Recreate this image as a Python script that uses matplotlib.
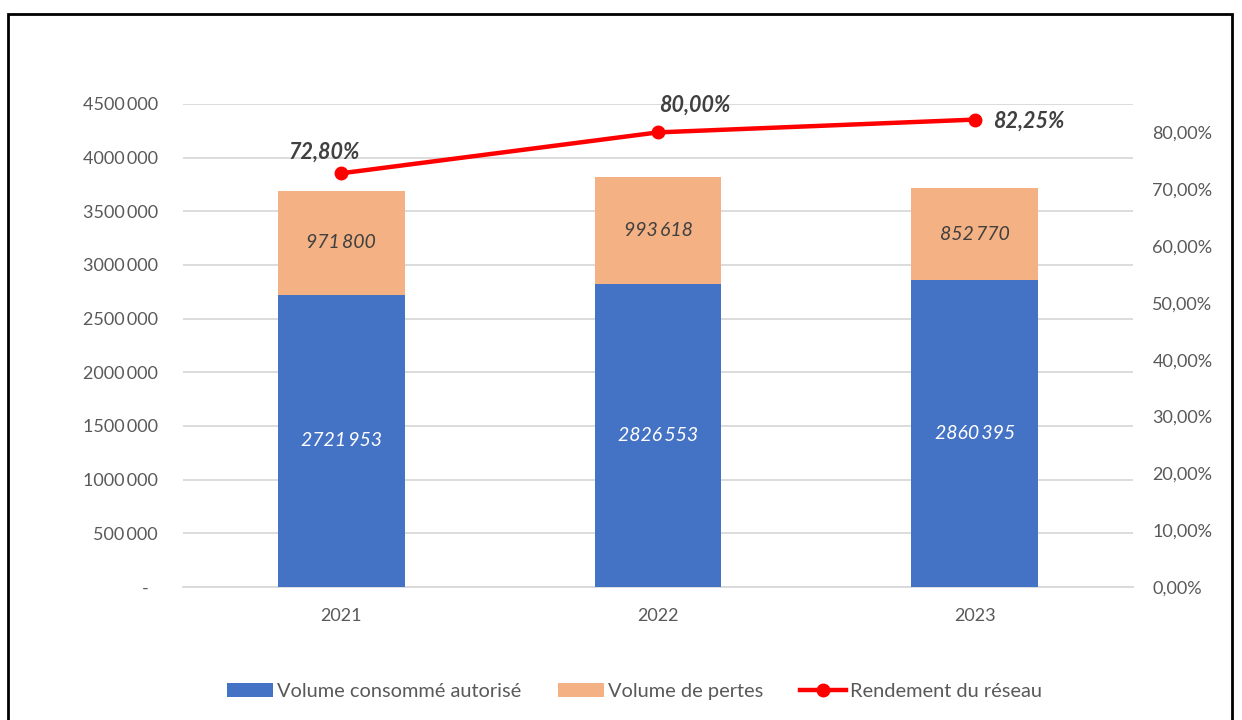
import matplotlib.pyplot as plt
from matplotlib.patches import Rectangle
from matplotlib.ticker import FuncFormatter

plt.rcParams['font.family'] = ['Lato', 'DejaVu Sans']

annees = ["2021", "2022", "2023"]
volume_autorise = [2721953, 2826553, 2860395]
volume_pertes = [971800, 993618, 852770]
rendement = [72.80, 80.00, 82.25]

bleu = "#4472C4"
orange = "#F4B183"
rouge = "#FF0000"
gris = "#595959"
NS = "\u2009"  # espace fine


def fmt_nombre(v):
    s = f"{int(round(v)):,}"
    # excel style: "4500 000" (pas de séparateur pour les millions)
    if v >= 1000000:
        s = s.replace(",", "", 1)
    return s.replace(",", NS)


def fmt_axe(v, pos):
    if v == 0:
        return "-\u2002"
    return fmt_nombre(v)


fig = plt.figure(figsize=(12.42, 7.2), dpi=100)
ax = fig.add_axes([0.1473, 0.1847, 0.7649, 0.6709])
x = range(len(annees))

ax.bar(x, volume_autorise, width=0.4, color=bleu, label="Volume consommé autorisé", zorder=3)
ax.bar(x, volume_pertes, width=0.4, bottom=volume_autorise, color=orange,
       label="Volume de pertes", zorder=3)

for i in x:
    ax.text(i, volume_autorise[i] / 2, fmt_nombre(volume_autorise[i]),
            ha="center", va="center", color="white", fontsize=14, style="italic", zorder=4)
    ax.text(i, volume_autorise[i] + volume_pertes[i] / 2, fmt_nombre(volume_pertes[i]),
            ha="center", va="center", color="#404040", fontsize=14, style="italic", zorder=4)

ax.set_ylim(0, 4500000)
ax.set_xlim(-0.5, 2.5)
ax.set_yticks(range(0, 4500001, 500000))
ax.yaxis.set_major_formatter(FuncFormatter(fmt_axe))
ax.set_xticks(list(x))
ax.set_xticklabels(annees)
ax.grid(axis="y", color="#D9D9D9", linewidth=1.3, zorder=0)
ax.set_axisbelow(True)
for s in ax.spines.values():
    s.set_visible(False)
ax.spines["bottom"].set_visible(True)
ax.spines["bottom"].set_color("#D9D9D9")
ax.spines["bottom"].set_linewidth(1.3)
ax.tick_params(axis="both", length=0, labelsize=13, labelcolor=gris)
ax.tick_params(axis="x", pad=15)
ax.tick_params(axis="y", pad=18)

ax2 = ax.twinx()
ax2.plot(list(x), rendement, color=rouge, linewidth=3.2, marker="o", markersize=9,
         label="Rendement du réseau", zorder=5)
ax2.set_ylim(0, 85)
ax2.set_yticks(range(0, 81, 10))
ax2.yaxis.set_major_formatter(FuncFormatter(lambda v, p: f"{v:.2f}%".replace(".", ",")))
for s in ax2.spines.values():
    s.set_visible(False)
ax2.tick_params(axis="y", length=0, labelsize=13, labelcolor=gris, pad=14)

offsets = [(-0.055, 3.7), (0.117, 4.75), (0.17, -0.2)]
for i, v in enumerate(rendement):
    dx, dy = offsets[i]
    ax2.text(i + dx, v + dy, f"{v:.2f}%".replace(".", ","), ha="center", va="center",
             fontsize=15.5, fontweight="bold", style="italic", color="#404040")

h1, l1 = ax.get_legend_handles_labels()
h2, l2 = ax2.get_legend_handles_labels()
fig.legend(h1 + h2, l1 + l2, loc="center", bbox_to_anchor=(0.511, 0.039), ncol=3,
           frameon=False, fontsize=14.4, labelcolor=gris, handlelength=2.3,
           handletextpad=0.2, columnspacing=1.85)

fig.add_artist(Rectangle((8 / 1242, -0.01), 1224 / 1242, 1 - 14 / 720 + 0.01,
                         transform=fig.transFigure, fill=False, edgecolor="black",
                         linewidth=2))

fig.savefig("out.png", dpi=100)
